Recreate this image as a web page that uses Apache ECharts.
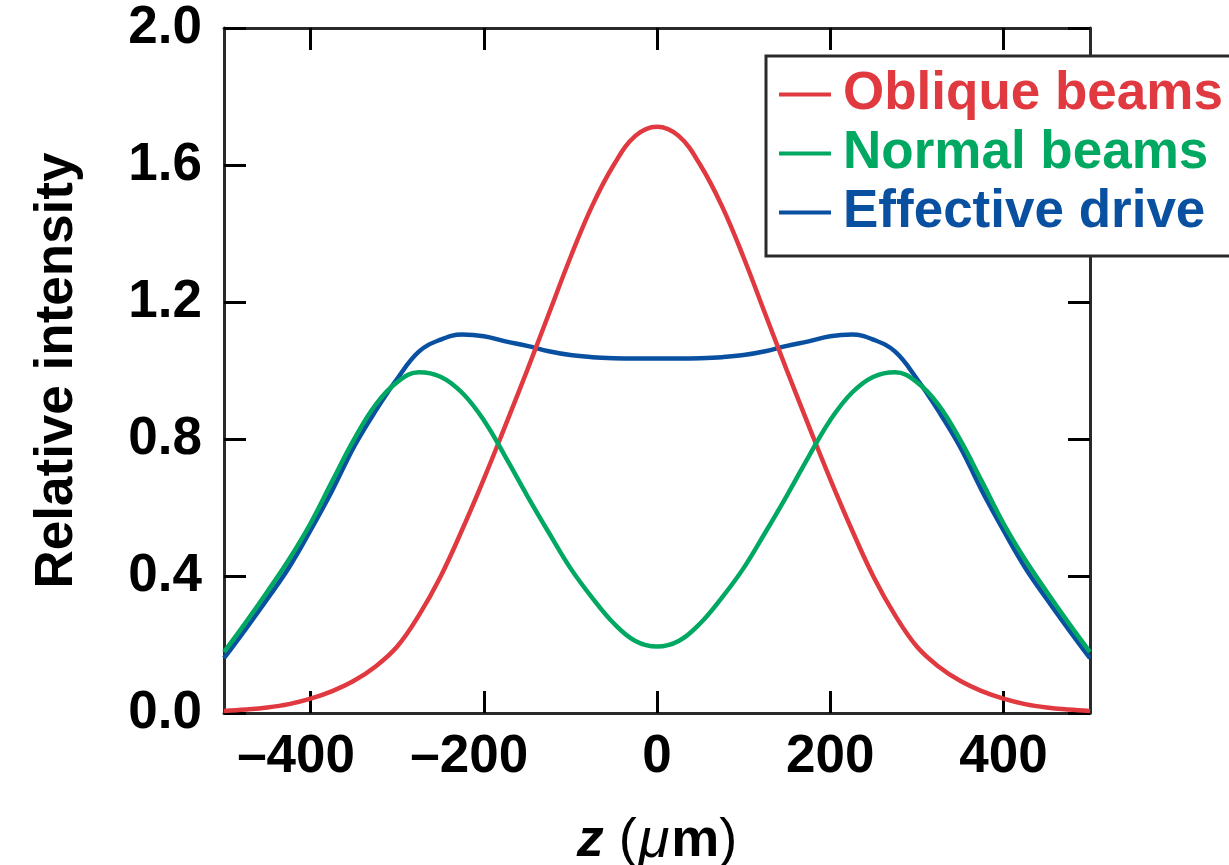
<!DOCTYPE html>
<html>
<head>
<meta charset="utf-8">
<title>Relative intensity vs z</title>
<script src="https://cdn.jsdelivr.net/npm/echarts@6/dist/echarts.min.js"></script>
<style>
  html, body { margin: 0; padding: 0; background: #ffffff; }
  #chart { width: 1229px; height: 865px; }
</style>
</head>
<body>
<div id="chart"></div>
<script>
// Axial position z (µm), sampled every 25 µm
const zPositions = [
  -500, -475, -450, -425, -400, -375, -350, -325, -300, -275,
  -250, -225, -200, -175, -150, -125, -100, -75, -50, -25,
  0, 25, 50, 75, 100, 125, 150, 175, 200, 225,
  250, 275, 300, 325, 350, 375, 400, 425, 450, 475, 500
];

// Relative intensity of the oblique beams
const obliqueBeams = [
  0.006, 0.010, 0.016, 0.026, 0.042, 0.064, 0.094, 0.136, 0.194, 0.285,
  0.398, 0.535, 0.683, 0.840, 1.000, 1.165, 1.330, 1.480, 1.600, 1.685,
  1.712, 1.685, 1.600, 1.480, 1.330, 1.165, 1.000, 0.840, 0.683, 0.535,
  0.398, 0.285, 0.194, 0.136, 0.094, 0.064, 0.042, 0.026, 0.016, 0.010, 0.006
];

// Relative intensity of the normal beams
const normalBeams = [
  0.178, 0.264, 0.354, 0.448, 0.554, 0.677, 0.798, 0.900, 0.966, 0.995,
  0.982, 0.935, 0.855, 0.748, 0.635, 0.527, 0.423, 0.337, 0.262, 0.210,
  0.194, 0.210, 0.262, 0.337, 0.423, 0.527, 0.635, 0.748, 0.855, 0.935,
  0.982, 0.995, 0.966, 0.900, 0.798, 0.677, 0.554, 0.448, 0.354, 0.264, 0.178
];

// Combined (effective) drive intensity
const effectiveDrive = [
  0.160, 0.245, 0.333, 0.425, 0.534, 0.650, 0.777, 0.882, 0.976, 1.055,
  1.090, 1.105, 1.100, 1.085, 1.072, 1.056, 1.045, 1.039, 1.036, 1.035,
  1.035, 1.035, 1.036, 1.039, 1.045, 1.056, 1.072, 1.085, 1.100, 1.105,
  1.090, 1.055, 0.976, 0.882, 0.777, 0.650, 0.534, 0.425, 0.333, 0.245, 0.160
];

// Labelled ticks along z
const zTicks = [-400, -200, 0, 200, 400];

const seriesNames = ['Oblique beams', 'Normal beams', 'Effective drive'];
const seriesColors = ['#e03a40', '#00a862', '#0a50a0'];
const seriesValues = [obliqueBeams, normalBeams, effectiveDrive];

const FONT = '"Liberation Sans", Arial, Helvetica, sans-serif';
const FRAME = '#2a2a2a';

function pairs(values) {
  return zPositions.map((z, i) => [z, values[i]]);
}

const chart = echarts.init(document.getElementById('chart'), null, { renderer: 'canvas' });

const tickStyle = { show: true, inside: true, length: 22, lineStyle: { color: '#000', width: 3 } };

chart.setOption({
  backgroundColor: '#ffffff',
  animation: false,
  grid: { left: 224, top: 28, right: 139, bottom: 152, outerBoundsMode: 'none', containLabel: false },
  legend: {
    data: seriesNames.map((n, i) => ({ name: n, textStyle: { color: seriesColors[i] } })),
    orient: 'vertical',
    left: 766,
    top: 56,
    padding: [9, 40, 14, 13],
    itemGap: 0,
    itemWidth: 52,
    itemHeight: 4,
    icon: 'rect',
    backgroundColor: '#ffffff',
    borderColor: FRAME,
    borderWidth: 3,
    borderRadius: 0,
    textStyle: { fontFamily: FONT, fontWeight: 'bold', fontSize: 53, lineHeight: 59, padding: [0, 0, 0, 7] },
    selectedMode: false
  },
  xAxis: [
    {
      type: 'value',
      min: -500,
      max: 500,
      position: 'bottom',
      axisLine: { show: true, onZero: false, lineStyle: { color: FRAME, width: 3 } },
      axisTick: Object.assign({ customValues: zTicks }, tickStyle),
      splitLine: { show: false },
      axisLabel: {
        customValues: zTicks,
        margin: 18,
        color: '#000',
        fontFamily: FONT,
        fontWeight: 'bold',
        fontSize: 53,
        formatter: function (v) {
          return v < 0 ? '{neg|\u2013' + Math.abs(v) + '}' : '{pos|' + v + '}';
        },
        rich: {
          neg: { fontFamily: FONT, fontWeight: 'bold', fontSize: 53, color: '#000', padding: [0, 29, 0, 0] },
          pos: { fontFamily: FONT, fontWeight: 'bold', fontSize: 53, color: '#000' }
        }
      },
      name: '{z|z }{p|(}{mu|\u03bc}{m|m}{p|)}',
      nameLocation: 'middle',
      nameGap: 100,
      nameTextStyle: {
        rich: {
          z: { fontFamily: FONT, fontWeight: 'bold', fontStyle: 'italic', fontSize: 54, color: '#000' },
          p: { fontFamily: FONT, fontWeight: 'normal', fontSize: 54, color: '#000' },
          mu: { fontFamily: FONT, fontWeight: 'normal', fontStyle: 'italic', fontSize: 56, color: '#000', padding: [0, 2, 0, 2] },
          m: { fontFamily: FONT, fontWeight: 'bold', fontSize: 54, color: '#000' }
        }
      }
    },
    {
      type: 'value',
      min: -500,
      max: 500,
      position: 'top',
      axisLine: { show: true, onZero: false, lineStyle: { color: FRAME, width: 3 } },
      axisTick: Object.assign({ customValues: zTicks }, tickStyle),
      axisLabel: { show: false },
      splitLine: { show: false }
    }
  ],
  yAxis: [
    {
      type: 'value',
      min: 0,
      max: 2,
      interval: 0.4,
      position: 'left',
      axisLine: { show: true, onZero: false, lineStyle: { color: FRAME, width: 3 } },
      axisTick: tickStyle,
      splitLine: { show: false },
      axisLabel: {
        margin: 22,
        color: '#000',
        fontFamily: FONT,
        fontWeight: 'bold',
        fontSize: 53,
        formatter: function (v) { return v.toFixed(1); }
      },
      name: 'Relative intensity',
      nameLocation: 'middle',
      nameRotate: 90,
      nameGap: 140,
      nameTextStyle: { fontFamily: FONT, fontWeight: 'bold', fontSize: 53, color: '#000' }
    },
    {
      type: 'value',
      min: 0,
      max: 2,
      interval: 0.4,
      position: 'right',
      axisLine: { show: true, onZero: false, lineStyle: { color: FRAME, width: 3 } },
      axisTick: tickStyle,
      axisLabel: { show: false },
      splitLine: { show: false }
    }
  ],
  series: seriesNames.map((name, i) => ({
    name: name,
    type: 'line',
    xAxisIndex: 0,
    yAxisIndex: 0,
    data: pairs(seriesValues[i]),
    smooth: 0.4,
    showSymbol: false,
    symbol: 'none',
    clip: true,
    lineStyle: { color: seriesColors[i], width: 4.5 },
    itemStyle: { color: seriesColors[i] },
    z: i === 0 ? 3 : (i === 1 ? 4 : 2)
  }))
});
</script>
</body>
</html>
